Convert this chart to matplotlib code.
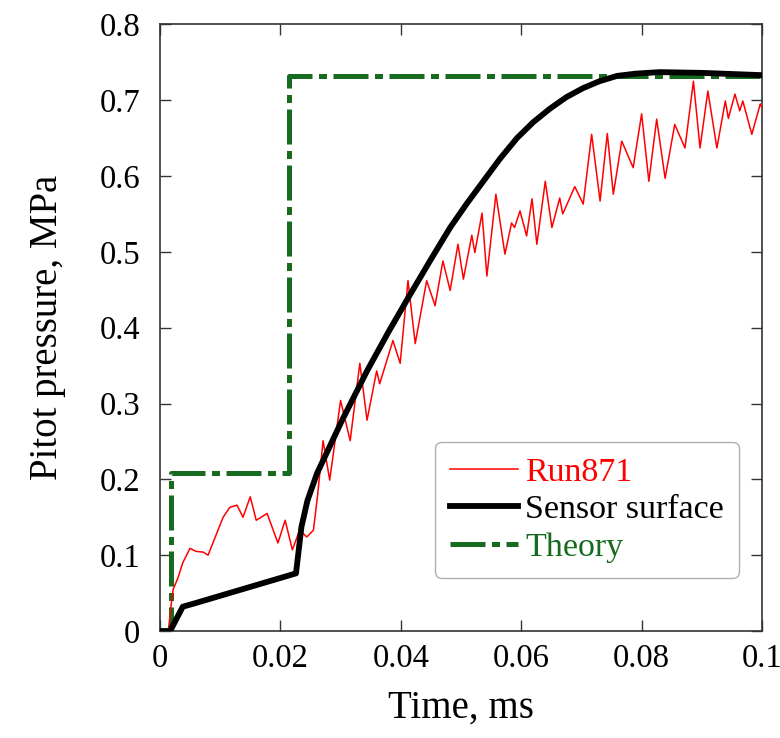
import numpy as np
import matplotlib
matplotlib.use('Agg')
import matplotlib.pyplot as plt

# Run871 measured pitot pressure (time in ms, pressure in MPa)
run_t = [0.0, 0.0014, 0.0018, 0.0022, 0.003, 0.0038, 0.005, 0.006, 0.0072, 0.008,
         0.009, 0.0105, 0.0116, 0.0128, 0.0138, 0.015, 0.016, 0.0178, 0.0196, 0.0208,
         0.022, 0.0232, 0.0244, 0.0255, 0.0262, 0.0271, 0.0282, 0.030, 0.0316, 0.0332,
         0.0344, 0.036, 0.0365, 0.0387, 0.0399, 0.0412, 0.0424, 0.0443, 0.0457, 0.047,
         0.0482, 0.0495, 0.0504, 0.0518, 0.0523, 0.0535, 0.0543, 0.0558, 0.0573, 0.0584,
         0.0589, 0.0598, 0.0609, 0.0618, 0.0626, 0.064, 0.0651, 0.0664, 0.0669, 0.0689,
         0.0703, 0.0717, 0.0731, 0.0743, 0.0753, 0.0767, 0.0786, 0.080, 0.0812, 0.0825,
         0.0839, 0.0855, 0.0872, 0.0886, 0.0897, 0.091, 0.0925, 0.0939, 0.0944, 0.0955,
         0.0963, 0.0968, 0.0983, 0.0997, 0.1]
run_p = [0.0, 0.0, 0.03, 0.055, 0.07, 0.09, 0.109, 0.105, 0.104, 0.1,
         0.12, 0.15, 0.163, 0.166, 0.15, 0.177, 0.146, 0.155, 0.116, 0.146,
         0.107, 0.133, 0.124, 0.133, 0.18, 0.251, 0.199, 0.304, 0.251, 0.353,
         0.278, 0.343, 0.326, 0.383, 0.353, 0.462, 0.379, 0.462, 0.429, 0.488,
         0.449, 0.51, 0.464, 0.522, 0.499, 0.551, 0.468, 0.576, 0.497, 0.538,
         0.532, 0.554, 0.521, 0.57, 0.51, 0.593, 0.532, 0.571, 0.55, 0.586,
         0.563, 0.655, 0.567, 0.656, 0.576, 0.646, 0.611, 0.682, 0.593, 0.675,
         0.597, 0.668, 0.637, 0.725, 0.637, 0.712, 0.637, 0.699, 0.676, 0.708,
         0.686, 0.699, 0.655, 0.695, 0.69]

# sensor surface response
sensor_t = [0.0, 0.0017, 0.0038, 0.006, 0.0226, 0.0235, 0.0245, 0.0261, 0.0302, 0.0344,
            0.038, 0.0415, 0.045, 0.0482, 0.051, 0.0537, 0.0565, 0.0593, 0.062, 0.0648,
            0.0675, 0.0703, 0.073, 0.0759, 0.079, 0.083, 0.09, 0.1]
sensor_p = [0.0, 0.0, 0.032, 0.037, 0.076, 0.137, 0.172, 0.208, 0.277, 0.343,
            0.395, 0.443, 0.49, 0.532, 0.564, 0.593, 0.623, 0.65, 0.671, 0.689,
            0.704, 0.716, 0.725, 0.732, 0.735, 0.737, 0.736, 0.733]

# theory steps
theory_t = [0.0, 0.0018, 0.0018, 0.0215, 0.0215, 0.1]
theory_p = [0.0, 0.0, 0.208, 0.208, 0.732, 0.732]

xticks = [0, 0.02, 0.04, 0.06, 0.08, 0.1]
xlabels = ['0', '0.02', '0.04', '0.06', '0.08', '0.1']
yticks = [0, 0.1, 0.2, 0.3, 0.4, 0.5, 0.6, 0.7, 0.8]
ylabels = ['0', '0.1', '0.2', '0.3', '0.4', '0.5', '0.6', '0.7', '0.8']

plt.rcParams['font.family'] = ['Liberation Serif', 'DejaVu Serif']

fig = plt.figure(figsize=(7.8, 7.38), dpi=100)
ax = fig.add_axes([0.205, 0.145, 0.772, 0.822])

green = '#176b1e'
ax.plot(run_t, run_p, color='red', lw=1.1, label='Run871', zorder=3)
ax.plot(sensor_t, sensor_p, color='black', lw=4.2, label='Sensor surface', zorder=4,
        solid_joinstyle='round')
th, = ax.plot(theory_t, theory_p, color=green, lw=3.6, label='Theory', zorder=2)
th.set_dashes((7, 1.3, 1.6, 1.3))

ax.set_xlim(0, 0.1)
ax.set_ylim(0, 0.8)
ax.set_xticks(xticks)
ax.set_xticklabels(xlabels)
ax.set_yticks(yticks)
ax.set_yticklabels(ylabels)
ax.tick_params(direction='in', length=8, width=1, labelsize=23.5,
               top=True, right=True, color='#333333')
ax.tick_params(axis='x', pad=9)
ax.tick_params(axis='y', pad=14)
for s in ax.spines.values():
    s.set_linewidth(1.2)
    s.set_color('#333333')

ax.set_xlabel('Time, ms', fontsize=28, labelpad=11)
ax.set_ylabel('Pitot pressure, MPa', fontsize=28, labelpad=24)

leg = ax.legend(loc='lower right', bbox_to_anchor=(0.962, 0.087), fontsize=24.5,
                handlelength=2.0, handletextpad=0.2, labelspacing=0.2,
                borderpad=0.45, borderaxespad=0, fancybox=True, framealpha=1,
                edgecolor='#b0b0b0')
leg.get_frame().set_linewidth(1.0)
for txt, c in zip(leg.get_texts(), ['red', 'black', green]):
    txt.set_color(c)

fig.savefig('out.png', dpi=100)
